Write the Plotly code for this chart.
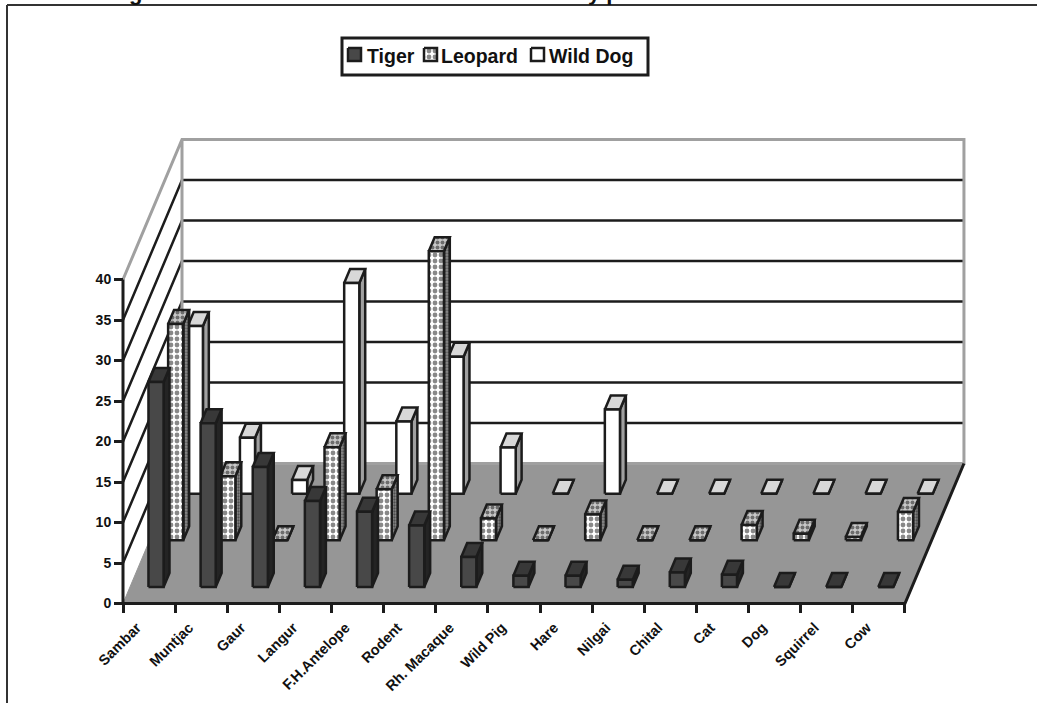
import plotly.graph_objects as go

categories = ["Sambar", "Muntjac", "Gaur", "Langur", "F.H.Antelope", "Rodent", "Rh. Macaque",
              "Wild Pig", "Hare", "Nilgai", "Chital", "Cat", "Dog", "Squirrel", "Cow"]
tiger = [25.3, 20.2, 14.8, 10.6, 9.3, 7.6, 3.7, 1.4, 1.4, 0.9, 1.8, 1.5, 0, 0, 0]
leopard = [26.7, 7.9, 0, 11.5, 6.3, 35.7, 2.7, 0, 3.2, 0, 0, 1.9, 0.8, 0.4, 3.5]
wild_dog = [20.7, 6.9, 1.7, 26.0, 8.9, 16.9, 5.7, 0, 10.4, 0, 0, 0, 0, 0, 0]
y_ticks = [0, 5, 10, 15, 20, 25, 30, 35, 40]

W, H = 1037, 703
CELL_PX, UNIT_PX = 52.13, 8.1
X0_PX, Y0_PX = 123.0, 603.5
DX = (59 / 3) / CELL_PX      # category units per depth row
DY = (140 / 3) / UNIT_PX     # value units per depth row
BAR_W, BAR_D, BAR_OFF = 0.29, 0.30, 0.354
INK = "#1c1c1c"
GREY = "#a0a0a0"
FONT = "Liberation Sans"
STROKE = 2.5

xrange_ = [-X0_PX / CELL_PX, (W - X0_PX) / CELL_PX]
yrange_ = [-(H - Y0_PX) / UNIT_PX, Y0_PX / UNIT_PX]


def proj(c, v, d):
    return c + d * DX, v + d * DY


def from_px(px, py):
    return (px - X0_PX) / CELL_PX, (Y0_PX - py) / UNIT_PX


def polyline(points):
    xs, ys = zip(*points)
    return list(xs), list(ys)


fig = go.Figure()


def line(points, color=INK, width=2.5):
    xs, ys = polyline(points)
    fig.add_trace(go.Scatter(x=xs, y=ys, mode="lines", line=dict(color=color, width=width),
                             hoverinfo="skip", showlegend=False))


n = len(categories)
# floor
fx, fy = polyline([proj(0, 0, 0), proj(n, 0, 0), proj(n, 0, 3), proj(0, 0, 3), proj(0, 0, 0)])
fig.add_trace(go.Scatter(x=fx, y=fy, mode="lines", fill="toself", fillcolor="#969696",
                         line=dict(color="#969696", width=1), hoverinfo="skip", showlegend=False))
# gridlines on side and back wall
for t in y_ticks[1:-1]:
    line([proj(0, t, 0), proj(0, t, 3), proj(n, t, 3)])
line([proj(0, 40, 0), proj(0, 40, 3), proj(n, 40, 3), proj(n, 0, 3), proj(0, 0, 3), proj(0, 40, 3)], GREY, 3)
# floor front and right edges, y axis
line([proj(0, 40, 0), proj(0, 0, 0), proj(n, 0, 0), proj(n, 0, 3)], INK, 3)


def add_faces(points, color, bg, pattern=None):
    xs, ys = [], []
    for poly in points:
        px, py = polyline(poly + poly[:1])
        xs += px + [None]
        ys += py + [None]
    kw = dict(fillcolor=bg)
    if pattern:
        kw["fillpattern"] = dict(shape=".", size=pattern[0], solidity=pattern[1], fgcolor="#111111", bgcolor=bg)
    fig.add_trace(go.Scatter(x=xs, y=ys, mode="lines", fill="toself", line=dict(color=color, width=STROKE),
                             hoverinfo="skip", showlegend=False, **kw))


def add_series(values, row, front, top, side, pats=(None, None, None)):
    d0 = row + BAR_OFF
    d1 = d0 + BAR_D
    fronts, tops, sides = [], [], []
    for i, v in enumerate(values):
        l = i + 0.5 - BAR_W / 2
        r = i + 0.5 + BAR_W / 2
        fronts.append([proj(l, 0, d0), proj(r, 0, d0), proj(r, v, d0), proj(l, v, d0)])
        tops.append([proj(l, v, d0), proj(r, v, d0), proj(r, v, d1), proj(l, v, d1)])
        sides.append([proj(r, 0, d0), proj(r, 0, d1), proj(r, v, d1), proj(r, v, d0)])
    add_faces(sides, INK, side, pats[2])
    add_faces(tops, INK, top, pats[1])
    add_faces(fronts, INK, front, pats[0])


add_series(wild_dog, 2, "#ffffff", "#d8d8d8", "#a0a0a0")
add_series(leopard, 1, "#ffffff", "#c8c8c8", "#8a8a8a", ((6, 0.5), (5, 0.5), (3, 0.45)))
add_series(tiger, 0, "#484848", "#383838", "#242424")

# legend
legend_items = [("Tiger", 347, 367, "#484848", None), ("Leopard", 423, 441, "#ffffff", (6, 0.5)),
                ("Wild Dog", 530, 549, "#ffffff", None)]
annotations = []
for name, sx, tx, col, pat in legend_items:
    add_faces([[from_px(sx + 1, 48), from_px(sx + 14, 48), from_px(sx + 14, 61), from_px(sx + 1, 61)]], INK, col, pat)
    annotations.append(dict(x=tx / W, y=1 - 56 / H, xref="paper", yref="paper", text=name, showarrow=False,
                            xanchor="left", yanchor="middle", xshift=-2,
                            font=dict(family=FONT, size=19.5, color="#111111", weight=700)))
# clipped title descenders at the top edge
for txt, px in (("g", 135), ("y p", 604)):
    annotations.append(dict(x=px / W, y=1 - 5 / H, xref="paper", yref="paper", text=txt, showarrow=False,
                            xanchor="center", yanchor="bottom", yshift=-2,
                            font=dict(family=FONT, size=22, color="#111111", weight=700)))

shapes = [
    dict(type="rect", xref="paper", yref="paper", x0=342 / W, x1=648 / W, y0=1 - 38 / H, y1=1 - 75 / H,
         line=dict(color=INK, width=3), fillcolor="white", layer="below"),
    dict(type="line", xref="paper", yref="paper", x0=7 / W, x1=1, y0=1 - 5 / H, y1=1 - 5 / H,
         line=dict(color="#333333", width=2)),
    dict(type="line", xref="paper", yref="paper", x0=7 / W, x1=7 / W, y0=1 - 5 / H, y1=0,
         line=dict(color="#333333", width=2)),
]

fig.update_layout(
    width=W, height=H, margin=dict(l=0, r=0, t=0, b=0, pad=0),
    paper_bgcolor="white", plot_bgcolor="rgba(0,0,0,0)", showlegend=False,
    annotations=annotations, shapes=shapes,
    xaxis=dict(range=xrange_, domain=[0, 1], anchor="free", position=(H - Y0_PX) / H, showgrid=False, zeroline=False,
               showline=False, tickmode="array", tickvals=[i for i in range(n + 1)],
               ticktext=categories + [""], ticks="outside", ticklen=8, tickwidth=2.5, tickcolor=INK,
               tickangle=-45, tickfont=dict(family=FONT, size=14.5, color="#111111", weight=700),
               ticklabelshift=14, ticklabelstandoff=1),
    yaxis=dict(range=yrange_, domain=[0, 1], anchor="free", position=X0_PX / W, showgrid=False, zeroline=False,
               showline=False, tickmode="array", tickvals=y_ticks, ticks="outside", ticklen=9, tickwidth=2.5,
               tickcolor=INK, tickfont=dict(family=FONT, size=14, color="#111111", weight=700)),
)
fig.write_html("out.html", config={"displayModeBar": False}, post_script="document.body.style.margin='0';")
